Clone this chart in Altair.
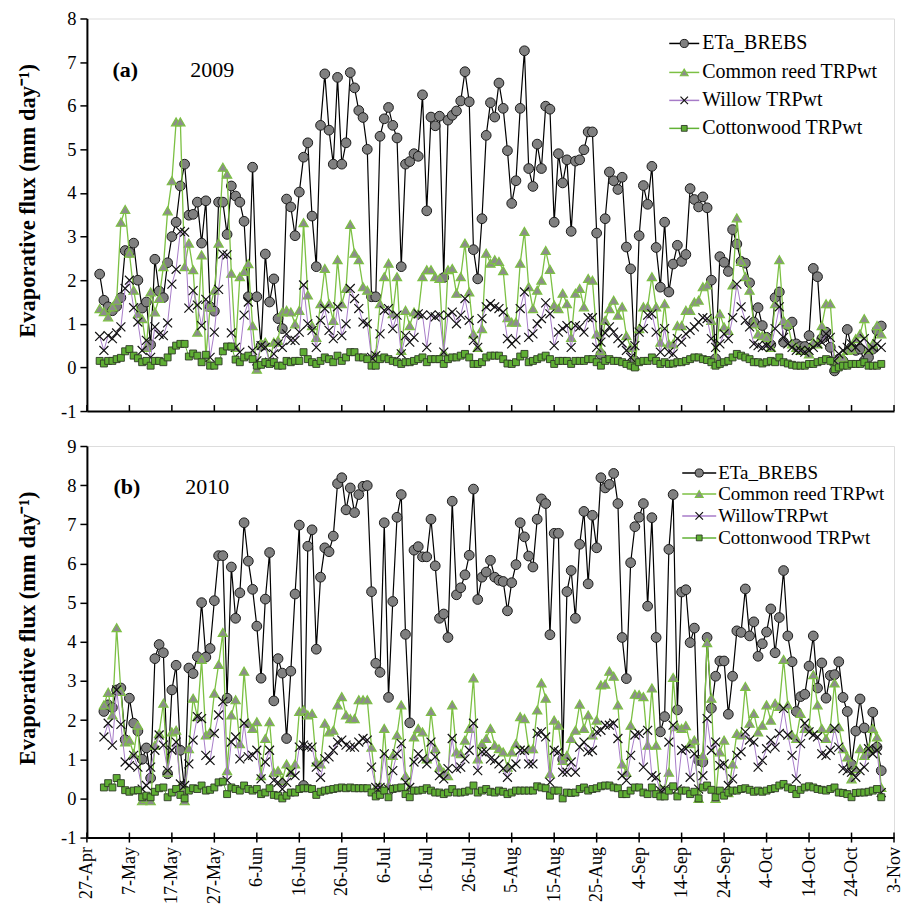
import json
import altair as alt
import pandas as pd

FONT = "Liberation Serif"

TICK_LABELS = ["27-Apr", "7-May", "17-May", "27-May", "6-Jun", "16-Jun", "26-Jun",
               "6-Jul", "16-Jul", "26-Jul", "5-Aug", "15-Aug", "25-Aug", "4-Sep",
               "14-Sep", "24-Sep", "4-Oct", "14-Oct", "24-Oct", "3-Nov"]

START_2009 = "2009-04-30"
START_2010 = "2010-05-01"

SERIES_NAMES_A = ["ETa_BREBS", "Common reed TRPwt", "Willow TRPwt", "Cottonwood TRPwt"]
SERIES_NAMES_B = ["ETa_BREBS", "Common reed TRPwt", "WillowTRPwt", "Cottonwood TRPwt"]

# ---------------- 2009 ----------------
ETA_2009 = [2.14, 1.54, 1.39, 1.3, 1.4, 1.6, 2.68, 2.64, 2.85, 2.0,
            1.36, 1.5, 0.52, 2.48, 1.75, 1.6, 2.4, 3.0, 3.33, 4.16,
            4.66, 3.49, 3.51, 3.79, 2.85, 3.82, 1.39, 1.29, 3.79, 3.79,
            3.05, 4.16, 3.93, 3.79, 3.35, 1.62, 4.59, 1.62, 0.5, 2.6,
            1.5, 2.03, 1.12, 0.89, 3.86, 3.68, 3.02, 4.02, 4.82, 5.15,
            3.47, 2.31, 5.55, 6.73, 5.44, 4.66, 6.65, 4.66, 5.15, 6.76,
            6.41, 5.89, 5.73, 5.0, 1.62, 1.62, 5.3, 5.7, 5.96, 5.55,
            5.26, 2.31, 4.66, 4.72, 4.9, 4.84, 6.25, 3.59, 5.74, 5.54,
            5.76, 2.06, 5.67, 5.78, 5.88, 6.11, 6.78, 6.09, 2.7, 2.03,
            3.41, 5.32, 6.07, 5.74, 6.52, 5.94, 4.97, 3.76, 4.28, 5.94,
            7.26, 4.56, 4.15, 5.12, 4.56, 5.99, 5.92, 3.33, 4.9, 4.23,
            4.76, 3.12, 4.73, 4.76, 4.99, 5.4, 5.4, 3.08, 0.3, 3.41,
            4.48, 4.28, 4.08, 4.36, 2.76, 2.26, 0.15, 3.02, 4.17, 3.74,
            4.61, 2.75, 1.84, 3.33, 1.73, 2.37, 2.8, 2.43, 2.59, 4.1,
            3.85, 3.68, 3.91, 3.66, 2.0, 0.2, 2.54, 2.41, 2.2, 3.16,
            2.83, 2.43, 2.39, 1.94, 1.04, 1.37, 0.96, 0.69, 0.52, 1.6,
            1.73, 0.58, 0.96, 1.04, 0.54, 0.48, 0.48, 0.73, 2.27, 2.08,
            0.66, 0.81, 0.46, -0.08, 0.19, 0.15, 0.87, 0.46, 0.39, 0.42,
            0.15, 0.23, 0.42, 0.85, 0.95]

REED_2009 = [1.35, 1.28, 1.16, 1.39, 1.54, 3.33, 3.62, 2.62, 1.77, 1.23,
             1.12, 0.46, 1.73, 1.27, 1.58, 2.31, 3.59, 4.28, 5.63, 5.63,
             2.31, 2.85, 2.24, 0.81, 2.58, 0.23, 1.39, 1.77, 2.85, 4.59,
             4.43, 2.16, 0.46, 2.08, 2.2, 2.38, 0.96, -0.04, 0.54, 0.58,
             0.12, 0.58, 0.62, 1.27, 1.31, 1.27, 1.0, 1.31, 3.32, 1.66,
             0.96, 0.69, 1.46, 2.27, 1.46, 1.08, 2.47, 1.46, 1.81, 3.28,
             2.62, 2.47, 1.85, 1.77, 0.23, 0.31, 1.46, 2.08, 2.39, 1.23,
             2.08, 0.39, 1.31, 0.96, 1.27, 1.23, 2.08, 2.24, 2.24, 2.08,
             2.04, 0.35, 2.24, 2.27, 1.7, 2.08, 2.85, 1.73, 0.77, 0.46,
             0.89, 2.62, 2.39, 2.47, 2.43, 2.22, 1.14, 1.04, 1.04, 2.39,
             3.12, 1.85, 1.35, 1.77, 2.0, 2.68, 2.25, 1.43, 1.35, 1.7,
             1.46, 0.69, 1.7, 1.81, 1.39, 2.04, 2.0, 0.77, 0.39, 1.08,
             1.35, 1.54, 1.2, 1.39, 0.73, 0.46, 0.04, 0.89, 1.39, 1.39,
             2.08, 1.39, 0.58, 1.46, 0.54, 0.54, 0.96, 0.96, 1.31, 1.31,
             1.5, 1.54, 1.85, 1.89, 1.08, 0.08, 1.23, 0.93, 0.85, 1.89,
             3.43, 2.43, 2.08, 1.77, 1.0, 0.77, 0.73, 0.69, 0.46, 1.46,
             2.47, 1.08, 1.0, 0.54, 0.46, 0.39, 0.39, 0.31, 0.58, 0.54,
             0.96, 1.46, 1.46, 0.15, 0.15, 0.23, 0.39, 0.42, 0.66, 0.77,
             1.12, 0.42, 0.54, 0.96, 0.77]

WILLOW_2009 = [0.71, 0.39, 0.73, 0.66, 0.79, 0.93, 1.81, 2.0, 1.37, 1.04,
               0.39, 0.62, 0.23, 0.93, 0.76, 0.73, 1.02, 1.91, 2.25, 3.12,
               3.1, 1.36, 1.76, 1.43, 0.96, 1.56, 0.23, 0.81, 1.79, 2.6,
               2.58, 0.79, 0.46, 0.35, 1.2, 1.5, 0.39, 0.15, 0.5, 0.46,
               0.12, 0.31, 0.54, 0.46, 0.77, 0.62, 0.62, 0.81, 1.89, 1.0,
               0.85, 0.46, 1.08, 1.35, 0.85, 0.66, 1.39, 0.73, 1.0, 1.81,
               1.58, 1.35, 1.04, 1.0, 0.23, 0.27, 0.77, 1.31, 1.35, 0.89,
               1.2, 0.31, 0.73, 0.58, 0.69, 1.23, 1.2, 0.46, 1.2, 1.16,
               1.2, 0.35, 1.2, 1.27, 1.0, 1.2, 1.58, 1.08, 0.62, 0.46,
               1.12, 1.39, 1.46, 1.39, 1.35, 1.27, 0.66, 0.54, 0.63, 1.35,
               1.73, 0.69, 0.77, 1.0, 1.12, 1.48, 1.23, 0.5, 0.81, 0.89,
               0.96, 0.46, 0.96, 0.93, 0.81, 1.14, 1.14, 0.46, 0.58, 0.79,
               0.93, 0.81, 0.66, 0.56, 0.39, 0.23, 0.5, 0.81, 0.89, 1.2,
               1.23, 0.81, 0.35, 0.89, 0.35, 0.31, 0.66, 0.58, 0.77, 0.85,
               0.93, 1.04, 1.14, 1.12, 0.66, 0.46, 0.54, 0.77, 0.66, 1.14,
               1.91, 1.39, 1.08, 0.93, 0.54, 0.5, 0.46, 0.5, 0.46, 0.89,
               1.39, 0.69, 0.54, 0.46, 0.39, 0.39, 0.35, 0.39, 0.46, 0.54,
               0.58, 0.77, 0.69, 0.15, 0.31, 0.39, 0.46, 0.54, 0.46, 0.58,
               0.66, 0.39, 0.46, 0.54, 0.46]

COTTON_2009 = [0.15, 0.09, 0.15, 0.15, 0.19, 0.22, 0.37, 0.42, 0.27, 0.21,
               0.12, 0.15, 0.04, 0.15, 0.15, 0.12, 0.23, 0.39, 0.5, 0.54,
               0.54, 0.25, 0.32, 0.27, 0.12, 0.29, 0.04, 0.04, 0.14, 0.37,
               0.48, 0.48, 0.18, 0.12, 0.23, 0.27, 0.19, 0.04, 0.06, 0.12,
               0.08, 0.12, 0.04, 0.04, 0.15, 0.12, 0.15, 0.15, 0.35, 0.19,
               0.12, 0.08, 0.15, 0.23, 0.19, 0.12, 0.27, 0.15, 0.23, 0.35,
               0.35, 0.23, 0.23, 0.19, 0.04, 0.04, 0.19, 0.23, 0.19, 0.15,
               0.12, 0.08, 0.12, 0.12, 0.15, 0.19, 0.23, 0.12, 0.19, 0.19,
               0.19, 0.08, 0.19, 0.23, 0.23, 0.27, 0.31, 0.23, 0.08, 0.08,
               0.12, 0.23, 0.27, 0.27, 0.27, 0.19, 0.09, 0.08, 0.12, 0.25,
               0.31, 0.12, 0.15, 0.19, 0.23, 0.27, 0.19, 0.08, 0.15, 0.15,
               0.15, 0.08, 0.15, 0.15, 0.15, 0.19, 0.19, 0.12, 0.04, 0.15,
               0.19, 0.15, 0.15, 0.12, 0.08, 0.04, 0.0, 0.12, 0.15, 0.15,
               0.23, 0.15, 0.08, 0.12, 0.08, 0.09, 0.12, 0.12, 0.15, 0.19,
               0.23, 0.23, 0.19, 0.17, 0.12, 0.04, 0.08, 0.12, 0.15, 0.23,
               0.31, 0.27, 0.23, 0.19, 0.12, 0.12, 0.09, 0.12, 0.15, 0.12,
               0.23, 0.12, 0.09, 0.06, 0.04, 0.04, 0.04, 0.08, 0.08, 0.12,
               0.15, 0.19, 0.15, -0.04, 0.0, 0.04, 0.04, 0.08, 0.08, 0.08,
               0.12, 0.04, 0.04, 0.04, 0.08]

# ---------------- 2010 ----------------
ETA_2010 = [2.22, 2.39, 2.32, 2.77, 2.82, 1.5, 2.56, 1.92, 1.72, 1.0,
            1.29, 0.52, 3.57, 3.93, 3.72, 0.63, 2.77, 3.4, 1.23, 0.2,
            3.33, 3.19, 3.62, 5.0, 3.61, 3.83, 5.05, 6.2, 6.2, 2.56,
            5.91, 4.6, 5.25, 7.04, 6.06, 5.34, 4.4, 3.07, 5.09, 6.28,
            2.49, 3.57, 3.2, 1.53, 3.25, 5.22, 6.98, 0.33, 6.44, 6.86,
            3.81, 5.65, 6.4, 6.3, 6.7, 8.04, 8.19, 7.37, 7.93, 7.3,
            7.76, 7.97, 7.99, 5.28, 3.45, 3.22, 7.04, 2.58, 5.03, 7.18,
            7.76, 4.19, 1.93, 6.34, 6.43, 6.17, 6.17, 7.13, 5.94, 4.6,
            4.71, 4.11, 7.59, 5.2, 5.38, 5.71, 6.21, 7.9, 5.08, 5.65,
            5.78, 6.08, 5.65, 5.57, 5.54, 4.79, 5.51, 5.97, 7.04, 6.68,
            6.19, 5.91, 7.13, 7.65, 7.53, 4.18, 6.77, 6.77, 1.0, 5.28,
            5.82, 4.6, 6.49, 7.33, 5.48, 7.23, 6.4, 8.19, 7.93, 8.02,
            8.3, 7.53, 4.11, 3.06, 6.02, 6.94, 7.18, 7.53, 4.91, 7.17,
            4.11, 1.7, 2.09, 6.36, 7.76, 2.26, 5.27, 5.33, 3.98, 4.35,
            0.97, 0.93, 4.11, 2.3, 3.12, 3.51, 3.51, 2.15, 3.12, 4.28,
            4.24, 5.35, 4.15, 4.51, 3.63, 3.95, 4.25, 4.84, 3.72, 4.62,
            5.82, 4.15, 3.49, 2.22, 2.6, 2.66, 3.38, 4.15, 2.82, 3.46,
            2.56, 3.14, 3.16, 3.49, 2.58, 2.22, 0.87, 1.72, 2.54, 1.8,
            1.2, 2.2, 1.31, 0.71]

REED_2010 = [2.39, 2.71, 2.13, 4.36, 2.73, 1.44, 1.49, 1.14, 1.87, -0.06,
             0.0, -0.06, 1.36, 1.66, 2.43, 0.67, 1.7, 1.74, 0.33, -0.06,
             1.27, 2.56, 2.09, 3.55, 1.62, 1.7, 2.69, 3.42, 4.24, 0.71,
             2.13, 2.52, 1.4, 3.25, 1.92, 1.79, 1.96, 0.58, 1.53, 1.96,
             0.67, 0.71, 0.46, 0.88, 0.67, 0.88, 2.22, 2.26, 2.13, 2.17,
             0.93, 0.88, 1.92, 1.7, 1.74, 2.39, 2.6, 2.13, 2.04, 2.04,
             2.52, 2.52, 2.52, 1.31, 0.28, 0.33, 1.79, 0.33, 1.1, 1.62,
             2.39, 0.58, 0.28, 1.57, 1.79, 1.7, 1.01, 2.22, 1.27, 0.8,
             0.67, 0.58, 2.39, 1.19, 1.14, 1.49, 1.79, 3.08, 1.01, 1.4,
             1.53, 1.79, 1.36, 1.27, 1.19, 0.8, 1.19, 1.4, 2.09, 2.04,
             1.27, 1.27, 2.26, 2.95, 2.56, 0.63, 2.0, 1.87, 0.97, 1.1,
             1.53, 1.74, 2.41, 1.79, 2.13, 1.62, 2.0, 2.9, 2.92, 3.25,
             3.12, 2.39, 0.88, 0.67, 1.87, 2.66, 2.65, 2.6, 1.36, 2.82,
             1.36, 0.24, 0.24, 0.67, 3.09, 1.83, 1.79, 1.86, 1.4, 1.49,
             0.0, 1.1, 3.98, 2.56, 0.0, 1.19, 1.49, 0.15, 0.88, 1.66,
             1.62, 2.86, 1.92, 2.17, 1.7, 1.87, 2.39, 2.0, 2.43, 2.35,
             3.55, 2.39, 1.62, 1.53, 2.17, 1.79, 1.79, 3.16, 2.39, 1.79,
             1.53, 1.79, 2.95, 1.83, 1.27, 1.06, 0.5, 0.76, 1.27, 1.1,
             1.27, 1.79, 1.57, 0.28]

WILLOW_2010 = [1.57, 1.92, 1.36, 2.77, 1.89, 0.93, 0.84, 1.1, 0.8, 0.24,
               0.33, 0.8, 1.23, 1.62, 1.36, 0.71, 1.23, 1.44, 0.37, 0.33,
               0.88, 1.49, 2.09, 2.04, 1.1, 0.97, 1.66, 2.13, 2.47, 0.46,
               1.44, 1.57, 1.01, 1.92, 1.06, 1.1, 1.23, 0.5, 0.93, 1.23,
               0.46, 0.41, 0.24, 0.41, 0.67, 0.58, 1.31, 1.36, 1.31, 1.31,
               0.8, 0.54, 1.01, 1.06, 1.23, 1.44, 1.49, 1.36, 1.31, 1.31,
               1.44, 1.53, 1.49, 0.8, 0.28, 0.28, 1.14, 0.24, 0.71, 1.14,
               1.4, 0.41, 0.28, 0.93, 1.14, 1.01, 0.88, 1.44, 1.06, 0.58,
               0.5, 0.76, 1.53, 0.76, 0.8, 1.01, 1.23, 1.92, 0.71, 1.19,
               1.19, 1.01, 0.97, 0.88, 0.76, 0.54, 0.8, 0.88, 1.23, 1.23,
               0.88, 0.88, 1.66, 1.7, 1.57, 0.41, 1.23, 1.19, 0.67, 0.67,
               0.93, 0.67, 1.31, 1.44, 1.19, 1.23, 1.7, 1.74, 1.87, 1.87,
               1.92, 1.53, 0.58, 0.46, 1.1, 1.62, 1.66, 0.8, 1.74, 0.58,
               0.54, 0.2, 0.24, 1.44, 1.87, 0.24, 1.23, 1.27, 0.54, 1.14,
               0.24, 0.58, 2.04, 1.23, 1.44, 0.84, 0.88, 0.33, 0.5, 1.1,
               1.19, 1.7, 1.49, 1.44, 0.8, 0.97, 1.27, 1.49, 1.31, 1.66,
               2.3, 1.62, 1.1, 0.5, 1.4, 1.92, 1.7, 1.62, 1.57, 1.14,
               1.1, 1.23, 1.79, 1.31, 0.76, 0.71, 0.67, 0.54, 0.71, 0.8,
               1.27, 1.14, 1.23, 0.15]

COTTON_2010 = [0.28, 0.39, 0.28, 0.52, 0.39, 0.21, 0.17, 0.2, 0.21, 0.03,
               0.07, 0.03, 0.17, 0.26, 0.28, 0.03, 0.15, 0.24, 0.09, 0.0,
               0.2, 0.26, 0.24, 0.33, 0.2, 0.22, 0.28, 0.41, 0.43, 0.11,
               0.28, 0.24, 0.2, 0.33, 0.24, 0.2, 0.24, 0.11, 0.15, 0.26,
               0.09, 0.07, 0.0, 0.07, 0.15, 0.15, 0.24, 0.26, 0.26, 0.24,
               0.09, 0.17, 0.2, 0.22, 0.24, 0.26, 0.28, 0.26, 0.28, 0.26,
               0.26, 0.26, 0.26, 0.15, 0.05, 0.09, 0.2, 0.03, 0.24, 0.26,
               0.28, 0.11, 0.03, 0.2, 0.2, 0.22, 0.26, 0.2, 0.15, 0.15,
               0.11, 0.15, 0.24, 0.15, 0.15, 0.17, 0.2, 0.33, 0.15, 0.2,
               0.24, 0.17, 0.15, 0.2, 0.17, 0.11, 0.15, 0.2, 0.2, 0.2,
               0.2, 0.2, 0.31, 0.28, 0.26, 0.07, 0.2, 0.2, 0.0, 0.15,
               0.14, 0.15, 0.24, 0.28, 0.2, 0.24, 0.26, 0.31, 0.33, 0.33,
               0.28, 0.26, 0.11, 0.11, 0.2, 0.28, 0.28, 0.15, 0.11, 0.28,
               0.11, 0.05, 0.05, 0.2, 0.31, 0.05, 0.2, 0.2, 0.11, 0.17,
               0.0, 0.28, 0.33, 0.22, 0.03, 0.2, 0.07, 0.15, 0.2, 0.2,
               0.24, 0.26, 0.22, 0.17, 0.2, 0.17, 0.2, 0.24, 0.26, 0.33,
               0.37, 0.28, 0.24, 0.11, 0.22, 0.28, 0.31, 0.28, 0.24, 0.22,
               0.2, 0.24, 0.28, 0.15, 0.14, 0.11, 0.03, 0.14, 0.15, 0.15,
               0.17, 0.2, 0.24, 0.03]

# ---------------- styling ----------------
X_PATH = "M-1,-1L1,1M-1,1L1,-1"
STYLES = [
    dict(line="#000000", lw=1.2, shape="circle", fill="#808080", stroke="#1a1a1a", size=95, sw=1.0, filled=True),
    dict(line="#7cc043", lw=1.3, shape="triangle-up", fill="#8c8c8c", stroke="#7cc043", size=85, sw=1.2, filled=True),
    dict(line="#a77bc8", lw=1.0, shape=X_PATH, fill="none", stroke="#111111", size=80, sw=1.2, filled=False),
    dict(line="#62b236", lw=1.0, shape="square", fill="#5fae34", stroke="#2e3a26", size=48, sw=0.9, filled=True),
]

W = 808
TICK_DAYS = [10 * i for i in range(len(TICK_LABELS))]
LABEL_EXPR = json.dumps(TICK_LABELS).replace('"', "'") + "[round(datum.value / 10)]"


def series_df(values, start):
    dates = pd.date_range(start, periods=len(values), freq="D")
    origin = pd.Timestamp(start[:4] + "-04-27")
    return pd.DataFrame({"day": (dates - origin).days, "value": values})


def make_panel(series, start, ymax, height, names, show_labels, tag, year,
               tag_xy, year_xy, leg_rows, leg_x0, leg_x1, leg_tx, leg_fs):
    x_axis = alt.Axis(values=TICK_DAYS, title=None, grid=False, ticks=False,
                      labels=show_labels, labelExpr=LABEL_EXPR, labelAngle=270,
                      labelFont=FONT, labelFontSize=18, labelColor="black",
                      labelPadding=9, domainColor="black", domainWidth=2)
    x_enc = alt.X("day:Q", scale=alt.Scale(domain=[0, 190], nice=False, zero=False), axis=x_axis)
    y_axis = alt.Axis(values=list(range(-1, ymax + 1)), grid=False,
                      title="Evaporative flux (mm day\u207b\u00b9)",
                      titleFont=FONT, titleFontSize=22.5, titleFontWeight="bold",
                      titleAngle=270, titleX=-59, titleY=182, titleAlign="center",
                      titleBaseline="middle", titleColor="black",
                      labelFont=FONT, labelFontSize=18.5, labelColor="black",
                      labelPadding=4, tickSize=7, tickWidth=1.5, tickColor="black",
                      domainColor="black", domainWidth=2,
                      labelExpr="datum.value < 0 ? '-' + abs(datum.value) : '' + datum.value")
    y_enc = alt.Y("value:Q", scale=alt.Scale(domain=[-1, ymax], nice=False, zero=False), axis=y_axis)

    layers = []
    tick_df = pd.DataFrame({"day": TICK_DAYS})
    if show_labels:
        ty0, ty1 = height - 5, height + 5
    else:
        ty0, ty1 = height - 6, height
    layers.append(alt.Chart(tick_df).mark_rule(color="black", strokeWidth=1.5)
                  .encode(x=x_enc, y=alt.value(ty0), y2=alt.value(ty1)))

    for vals, st in zip(series, STYLES):
        df = series_df(vals, start)
        base = alt.Chart(df).encode(x=x_enc, y=y_enc)
        layers.append(base.mark_line(color=st["line"], strokeWidth=st["lw"]))
        layers.append(base.mark_point(shape=st["shape"], filled=st["filled"], fill=st["fill"],
                                      stroke=st["stroke"], size=st["size"],
                                      strokeWidth=st["sw"], opacity=1))

    one = alt.Chart(pd.DataFrame({"k": [0]}))
    for name, st, ry in zip(names, STYLES, leg_rows):
        layers.append(one.mark_rule(color=st["line"], strokeWidth=1.5)
                      .encode(x=alt.value(leg_x0), x2=alt.value(leg_x1), y=alt.value(ry)))
        layers.append(one.mark_point(shape=st["shape"], filled=st["filled"], fill=st["fill"],
                                     stroke=st["stroke"], size=st["size"] * 0.7,
                                     strokeWidth=st["sw"], opacity=1)
                      .encode(x=alt.value((leg_x0 + leg_x1) / 2), y=alt.value(ry)))
        layers.append(one.mark_text(align="left", baseline="middle", font=FONT,
                                    fontSize=leg_fs, color="black")
                      .encode(x=alt.value(leg_tx), y=alt.value(ry), text=alt.value(name)))

    layers.append(one.mark_text(align="center", baseline="middle", font=FONT, fontSize=22,
                                fontWeight="bold", color="black")
                  .encode(x=alt.value(tag_xy[0]), y=alt.value(tag_xy[1]), text=alt.value(tag)))
    layers.append(one.mark_text(align="center", baseline="middle", font=FONT, fontSize=22,
                                color="black")
                  .encode(x=alt.value(year_xy[0]), y=alt.value(year_xy[1]), text=alt.value(year)))

    return alt.layer(*layers).properties(width=W, height=height)


panel_a = make_panel([ETA_2009, REED_2009, WILLOW_2009, COTTON_2009], START_2009, 8, 393,
                     SERIES_NAMES_A, False, "(a)", "2009", (38.5, 52), (125.5, 52),
                     [25, 54, 82, 110], 583, 613, 616, 20)
panel_b = make_panel([ETA_2010, REED_2010, WILLOW_2010, COTTON_2010], START_2010, 9, 392,
                     SERIES_NAMES_B, True, "(b)", "2010", (40, 41), (120.5, 41),
                     [27, 48, 70, 92], 596, 630, 632, 19)

chart = (alt.vconcat(panel_a, panel_b, spacing=35, bounds="flush")
         .properties(padding={"left": 8, "top": 0, "right": 0, "bottom": 0})
         .configure_view(stroke="#8c8c8c", strokeWidth=1.5)
         .configure(background="white"))

chart.save("out.html", embed_options={"renderer": "svg", "actions": False})
